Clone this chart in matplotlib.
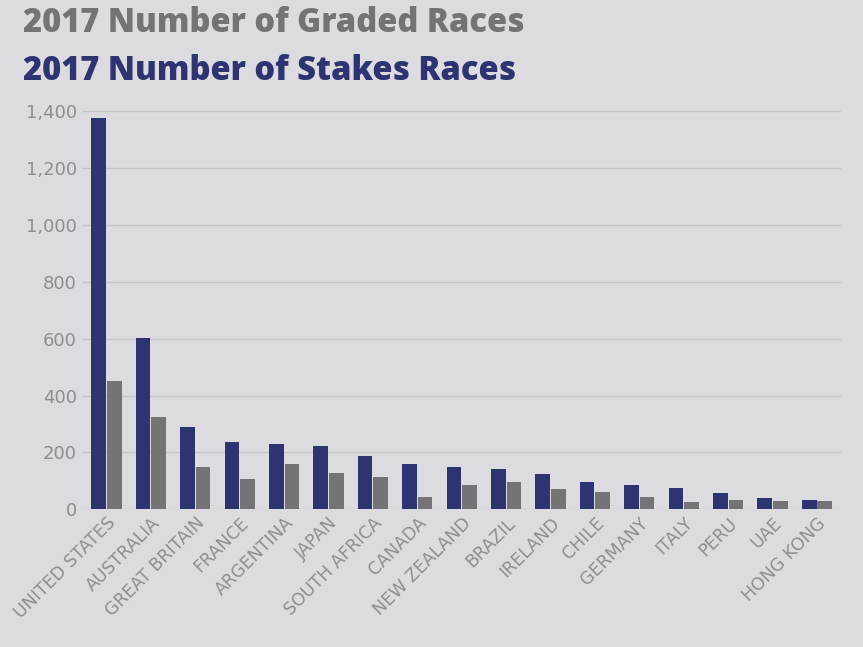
import matplotlib
matplotlib.use("Agg")
import matplotlib.pyplot as plt
import numpy as np

countries = ["UNITED STATES","AUSTRALIA","GREAT BRITAIN","FRANCE","ARGENTINA","JAPAN",
             "SOUTH AFRICA","CANADA","NEW ZEALAND","BRAZIL","IRELAND","CHILE","GERMANY",
             "ITALY","PERU","UAE","HONG KONG"]
stakes = [1378,601,288,236,229,222,186,158,148,141,123,95,84,74,56,39,32]
graded = [452,324,149,107,160,128,112,42,85,96,70,62,42,24,32,28,30]

bg = "#dcdbdf"
fig = plt.figure(figsize=(8.63,6.47), dpi=100, facecolor=bg)
ax = fig.add_axes([0.095, 0.213, 0.88, 0.615], facecolor=bg)
x = np.arange(len(countries))
w = 0.33
ax.bar(x-w/2-0.01, stakes, w, color="#2e3372")
ax.bar(x+w/2+0.01, graded, w, color="#747476")
ax.set_ylim(0,1400)
ax.set_xlim(-0.55, len(countries)-0.45)
ax.set_yticks(range(0,1401,200))
ax.set_yticklabels([f"{v:,}" for v in range(0,1401,200)])
ax.yaxis.grid(True, color="#c6c5c9", lw=1)
ax.set_axisbelow(True)
for s in ax.spines.values(): s.set_visible(False)
ax.tick_params(length=0, labelsize=13, labelcolor="#8e8e92")
ax.set_xticks(x)
ax.set_xticklabels(countries, rotation=45, ha="right", rotation_mode="anchor", fontsize=12.5)
fig.text(0.027, 0.965, "2017 Number of Graded Races", fontsize=23.5, fontweight="heavy",
         color="#747476", family="Open Sans", va="center")
fig.text(0.027, 0.89, "2017 Number of Stakes Races", fontsize=23.5, fontweight="heavy",
         color="#2e3372", family="Open Sans", va="center")
fig.savefig("out.png", dpi=100, facecolor=bg)
